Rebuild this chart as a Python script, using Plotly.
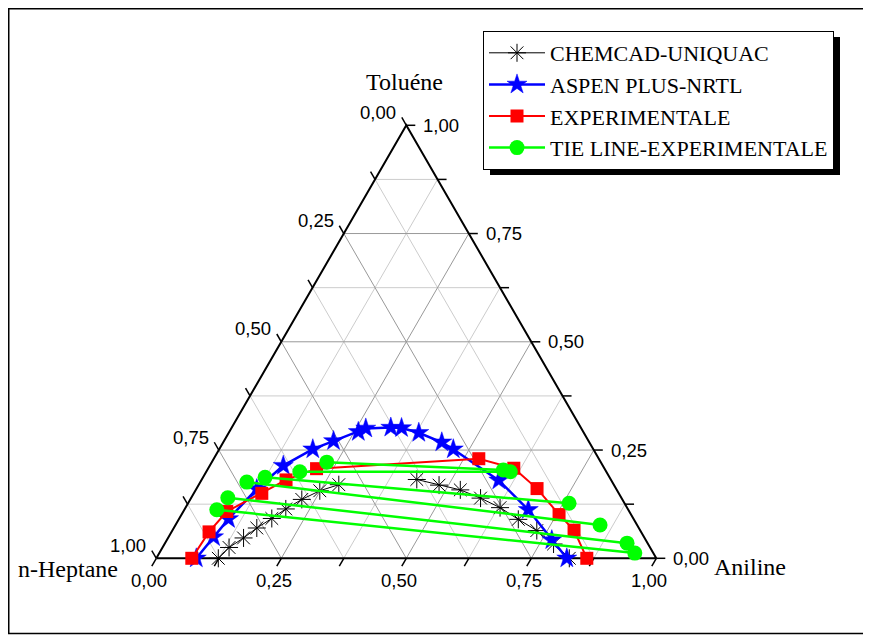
import math
import plotly.graph_objects as go

S3 = math.sqrt(3) / 2

# ---- Data: mass fractions (toluene, aniline); n-heptane = 1 - toluene - aniline ----
chemcad_tol = [0.000, 0.025, 0.047, 0.070, 0.092, 0.114, 0.136, 0.156, 0.170, None,
               0.182, 0.169, 0.158, 0.139, 0.117, 0.090, 0.064, 0.033, 0.000]
chemcad_ani = [0.124, 0.133, 0.151, 0.166, 0.185, 0.202, 0.223, 0.249, 0.280, None,
               0.430, 0.481, 0.529, 0.579, 0.629, 0.679, 0.729, 0.778, 0.826]

aspen_tol = [0.000, 0.049, 0.091, 0.160, 0.214, 0.252, 0.271, 0.292, 0.300, 0.302,
             0.301, 0.290, 0.268, 0.252, 0.180, 0.112, 0.042, 0.000]
aspen_ani = [0.080, 0.090, 0.099, 0.121, 0.147, 0.187, 0.219, 0.258, 0.269, 0.318,
             0.340, 0.380, 0.437, 0.468, 0.595, 0.688, 0.770, 0.821]

exp_tol = [0.000, 0.061, 0.108, 0.150, 0.181, 0.207, 0.230, 0.208, 0.161, 0.101, 0.065, 0.000]
exp_ani = [0.071, 0.075, 0.087, 0.136, 0.169, 0.217, 0.530, 0.611, 0.681, 0.755, 0.803, 0.861]

# tie lines: raffinate (left) and extract (right) ends
tie_raf_tol = [0.222, 0.200, 0.187, 0.176, 0.140, 0.112]
tie_raf_ani = [0.230, 0.187, 0.124, 0.093, 0.073, 0.065]
tie_ext_tol = [0.204, 0.200, 0.127, 0.077, 0.035, 0.012]
tie_ext_ani = [0.592, 0.608, 0.762, 0.849, 0.924, 0.951]

tick_vals = [0.0, 0.25, 0.5, 0.75, 1.0]
tick_text = ["0,00", "0,25", "0,50", "0,75", "1,00"]
grid_vals = [i / 8 for i in range(1, 8)]
minor_tick_vals = [i / 8 for i in range(0, 9)]

names = ["CHEMCAD-UNIQUAC", "ASPEN PLUS-NRTL", "EXPERIMENTALE", "TIE LINE-EXPERIMENTALE"]
axis_titles = ["Toluéne", "n-Heptane", "Aniline"]


def tx(t, a):
    if t is None or a is None:
        return None
    return a + t / 2


def ty(t, a):
    if t is None or a is None:
        return None
    return t * S3


def conv(tl, al):
    return [tx(t, a) for t, a in zip(tl, al)], [ty(t, a) for t, a in zip(tl, al)]


fig = go.Figure()

# ---- grid lines ----
for major in (False, True):
    gx, gy = [], []
    for v in grid_vals:
        is_major = abs((v / 0.25) - round(v / 0.25)) < 1e-9
        if is_major != major:
            continue
        for (t1, a1), (t2, a2) in [((v, 0), (v, 1 - v)),          # toluene = v
                                   ((0, v), (1 - v, v)),          # aniline = v
                                   ((0, 1 - v), (1 - v, 0))]:     # heptane = v
            gx += [tx(t1, a1), tx(t2, a2), None]
            gy += [ty(t1, a1), ty(t2, a2), None]
    fig.add_trace(go.Scatter(x=gx, y=gy, mode="lines", hoverinfo="skip", showlegend=False,
                             line=dict(color="#999999" if major else "#cccccc", width=1)))

# ---- ticks ----
L = 0.018
kx, ky = [], []
for v in minor_tick_vals:
    x0, y0 = tx(1 - v, 0), ty(1 - v, 0)          # left edge: heptane
    kx += [x0, x0 - 0.5 * L, None]
    ky += [y0, y0 + S3 * L, None]
    x0, y0 = tx(v, 1 - v), ty(v, 1 - v)          # right edge: toluene
    kx += [x0, x0 + L, None]
    ky += [y0, y0, None]
    x0, y0 = tx(0, v), ty(0, v)                  # bottom edge: aniline
    kx += [x0, x0 - 0.5 * L, None]
    ky += [y0, y0 - S3 * L, None]
fig.add_trace(go.Scatter(x=kx, y=ky, mode="lines", hoverinfo="skip", showlegend=False,
                         line=dict(color="black", width=1.5)))

# ---- triangle edges ----
fig.add_trace(go.Scatter(x=[tx(0, 0), tx(0, 1), tx(1, 0), tx(0, 0)],
                         y=[ty(0, 0), ty(0, 1), ty(1, 0), ty(0, 0)],
                         mode="lines", hoverinfo="skip", showlegend=False,
                         line=dict(color="black", width=2)))

# ---- data ----
x, y = conv(chemcad_tol, chemcad_ani)
fig.add_trace(go.Scatter(x=x, y=y, mode="lines+markers", name=names[0],
                         line=dict(color="black", width=1),
                         marker=dict(symbol="asterisk-open", size=15, color="black",
                                     line=dict(color="black", width=1))))
x, y = conv(aspen_tol, aspen_ani)
fig.add_trace(go.Scatter(x=x, y=y, mode="lines+markers", name=names[1],
                         line=dict(color="#0000ff", width=2.5),
                         marker=dict(symbol="star", size=15, color="#0000ff",
                                     line=dict(color="#0000ff", width=0.5))))
x, y = conv(exp_tol, exp_ani)
fig.add_trace(go.Scatter(x=x, y=y, mode="lines+markers", name=names[2],
                         line=dict(color="#ff0000", width=2),
                         marker=dict(symbol="square", size=13, color="#ff0000")))
tt, ta = [], []
for rt, ra, et, ea in zip(tie_raf_tol, tie_raf_ani, tie_ext_tol, tie_ext_ani):
    tt += [rt, et, None]
    ta += [ra, ea, None]
x, y = conv(tt, ta)
fig.add_trace(go.Scatter(x=x, y=y, mode="lines+markers", name=names[3],
                         line=dict(color="#00ff00", width=2.5),
                         marker=dict(symbol="circle", size=15, color="#00ff00")))

# ---- tick labels ----
ann = []
tf = dict(family="Liberation Sans", size=18.5, color="black")
for v, s in zip(tick_vals, tick_text):
    ann.append(dict(x=tx(1 - v, 0), y=ty(1 - v, 0), text=s, showarrow=False,
                    xanchor="right", yanchor="middle", xshift=-8, yshift=13, font=tf))
    ann.append(dict(x=tx(v, 1 - v), y=ty(v, 1 - v), text=s, showarrow=False,
                    xanchor="left", yanchor="middle", xshift=15, yshift=0, font=tf))
    ann.append(dict(x=tx(0, v), y=ty(0, v), text=s, showarrow=False,
                    xanchor="center", yanchor="middle", xshift=-7, yshift=-22, font=tf))

sf = dict(family="Liberation Serif", size=24, color="black")
ann.append(dict(x=tx(1, 0), y=ty(1, 0), text=axis_titles[0], showarrow=False,
                xanchor="center", yanchor="middle", xshift=-2, yshift=43, font=sf))
ann.append(dict(x=tx(0, 0), y=ty(0, 0), text=axis_titles[1], showarrow=False,
                xanchor="right", yanchor="middle", xshift=-36, yshift=-11, font=sf))
ann.append(dict(x=tx(0, 1), y=ty(0, 1), text=axis_titles[2], showarrow=False,
                xanchor="left", yanchor="middle", xshift=56, yshift=-9, font=sf))

# page body adds an 8px offset; figure is sized/placed to compensate
W, H = 863, 627
X0, Y0 = 148.3, 550.3   # pixel position of the n-Heptane corner inside the figure
SC = 500.0              # pixels per unit side length

LEG_L, LEG_T, LEG_W, LEG_H = 475, 23, 350, 138
shapes = [
    dict(type="rect", xref="paper", yref="paper", x0=0.75 / W, x1=1.05, y0=1 - 625.5 / H, y1=1 - 0.75 / H,
         line=dict(color="black", width=1.5), fillcolor="rgba(0,0,0,0)", layer="below"),
    dict(type="rect", xref="paper", yref="paper",
         x0=(LEG_L + 7) / W, x1=(LEG_L + LEG_W + 7) / W,
         y0=1 - (LEG_T + LEG_H + 6) / H, y1=1 - (LEG_T + 6) / H,
         line=dict(width=0), fillcolor="black", layer="above"),
]

fig.update_layout(
    width=W, height=H, autosize=False,
    margin=dict(l=0, r=0, t=0, b=0),
    paper_bgcolor="white", plot_bgcolor="white",
    xaxis=dict(range=[-X0 / SC, (W - X0) / SC], visible=False, fixedrange=True),
    yaxis=dict(range=[(Y0 - H) / SC, Y0 / SC], visible=False, fixedrange=True),
    showlegend=True,
    legend=dict(x=LEG_L / W, y=1 - LEG_T / H, xanchor="left", yanchor="top",
                bgcolor="white", bordercolor="black", borderwidth=1,
                font=dict(family="Liberation Serif", size=22, color="black"),
                itemwidth=56, tracegroupgap=0),
    annotations=ann,
    shapes=shapes,
)

fig.write_html("out.html")
